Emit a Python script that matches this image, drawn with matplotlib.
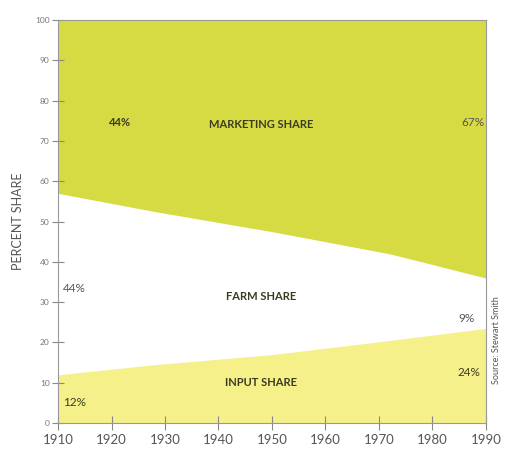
import matplotlib.pyplot as plt

# --- data ---
years = [1910, 1928, 1950, 1972, 1990]
marketing_floor = [57, 52.5, 47.5, 42, 36]   # lower edge of marketing band
input_top = [12, 14.5, 17, 20.5, 23.5]       # upper edge of input band
xticks = [1910, 1920, 1930, 1940, 1950, 1960, 1970, 1980, 1990]
yticks = list(range(0, 101, 10))

MARKETING_COLOR = "#d6db44"
INPUT_COLOR = "#f5f08a"
TEXT_DARK = "#3b3b20"
TEXT_GREY = "#555555"

plt.rcParams["font.family"] = ["Lato", "DejaVu Sans"]

fig = plt.figure(figsize=(5.05, 4.54), dpi=100)
ax = fig.add_axes([0.115, 0.068, 0.847, 0.888])

ax.fill_between(years, marketing_floor, 100, color=MARKETING_COLOR, lw=0)
ax.fill_between(years, 0, input_top, color=INPUT_COLOR, lw=0)

ax.set_xlim(1910, 1990)
ax.set_ylim(0, 100)
ax.set_xticks(xticks)
ax.set_yticks(yticks)
ax.tick_params(axis="y", direction="inout", length=8, width=0.8,
               colors="#888888", labelsize=6, labelcolor="#777777", pad=2)
ax.tick_params(axis="x", direction="inout", length=10, width=0.8,
               colors="#888888", labelsize=9.5, labelcolor=TEXT_GREY, pad=3)
for side in ["left", "bottom", "right", "top"]:
    ax.spines[side].set_color("#999999")
    ax.spines[side].set_linewidth(0.8)

ax.set_ylabel("PERCENT SHARE", fontsize=9, color=TEXT_GREY, labelpad=8)

# --- band labels ---
ax.text(1948, 74, "MARKETING SHARE", ha="center", va="center",
        fontsize=8, fontweight="bold", color=TEXT_DARK)
ax.text(1948, 31.5, "FARM SHARE", ha="center", va="center",
        fontsize=8, fontweight="bold", color=TEXT_DARK)
ax.text(1948, 10, "INPUT SHARE", ha="center", va="center",
        fontsize=8, fontweight="bold", color=TEXT_DARK)

# --- percentage labels ---
ax.text(1921.5, 74.5, "44%", ha="center", va="center", fontsize=8,
        color=TEXT_DARK, fontweight="bold")
ax.text(1989.7, 74.5, "67%", ha="right", va="center", fontsize=8.5,
        color=TEXT_GREY)
ax.text(1911, 33.5, "44%", ha="left", va="center", fontsize=8.5,
        color=TEXT_GREY)
ax.text(1988, 26, "9%", ha="right", va="center", fontsize=8.5,
        color=TEXT_GREY)
ax.text(1989, 12.5, "24%", ha="right", va="center", fontsize=8.5,
        color=TEXT_DARK)
ax.text(1911, 5, "12%", ha="left", va="center", fontsize=8.5,
        color=TEXT_DARK)

fig.text(0.984, 0.25, "Source: Stewart Smith", rotation=90, ha="center",
         va="center", fontsize=6.5, color=TEXT_GREY)

fig.savefig("out.png", dpi=100)
